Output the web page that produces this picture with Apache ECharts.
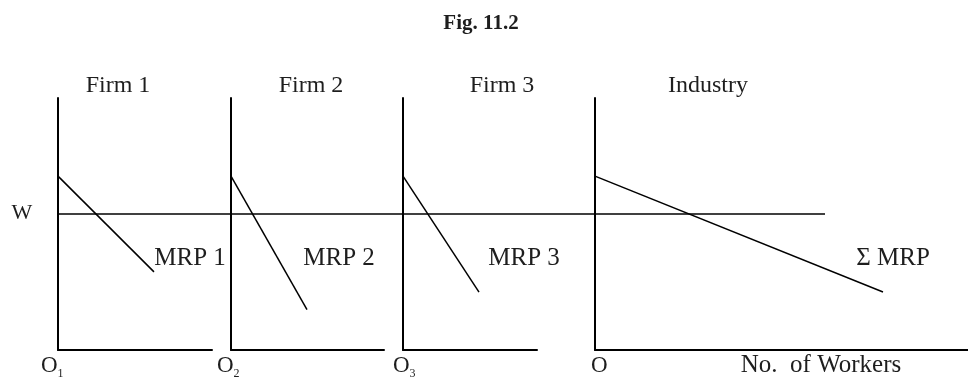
<!DOCTYPE html>
<html>
<head>
<meta charset="utf-8">
<script src="https://cdn.jsdelivr.net/npm/echarts@6/dist/echarts.min.js"></script>
<style>
  html, body { margin: 0; padding: 0; background: #fff; }
  #main { width: 968px; height: 379px; }
</style>
</head>
<body>
<div id="main"></div>
<script>
// panels: three firms plus the industry total
var panels = ['Firm 1', 'Firm 2', 'Firm 3', 'Industry'];
var origins = ['1', '2', '3', ''];          // subscripts under O
var curveNames = ['MRP 1', 'MRP 2', 'MRP 3', 'Σ MRP'];
// MRP curves: [workers, wage] start and end points
var mrpStart = [[0, 6.9], [0, 6.9], [0, 6.9], [0, 6.9]];
var mrpEnd = [[9.6, 3.1], [7.6, 1.6], [7.6, 2.3], [28.8, 2.3]];
// axis ranges
var xMax = [15.4, 15.3, 13.4, 37.3];
var yMax = 10;
// market wage
var wage = 5.4;

var myChart = echarts.init(document.getElementById('main'));

var serif = '"Liberation Serif", "Times New Roman", serif';
var ink = '#1e1e1e';

// grid boxes (pixels), the last one only carries the wage line
var gridBoxes = [
    { left: 58, width: 154 },
    { left: 231, width: 153 },
    { left: 403, width: 134 },
    { left: 595, right: 0 },
    { left: 58, width: 767 }
];

var grids = [], xAxes = [], yAxes = [], series = [];
gridBoxes.forEach(function (b, i) {
    grids.push(Object.assign({ top: 98, bottom: 29 }, b));
    var isWage = i === 4;
    var axisLine = { show: !isWage, lineStyle: { color: '#000', width: 2 } };
    xAxes.push({
        type: 'value', gridIndex: i, min: 0, max: isWage ? 1 : xMax[i],
        axisLine: axisLine, axisTick: { show: false }, axisLabel: { show: false },
        splitLine: { show: false }
    });
    yAxes.push({
        type: 'value', gridIndex: i, min: 0, max: yMax,
        axisLine: axisLine, axisTick: { show: false }, axisLabel: { show: false },
        splitLine: { show: false }
    });
});

// MRP curves
for (var i = 0; i < panels.length; i++) {
    series.push({
        name: curveNames[i],
        type: 'line',
        xAxisIndex: i, yAxisIndex: i,
        data: [mrpStart[i], mrpEnd[i]],
        symbol: 'none',
        lineStyle: { color: '#000', width: 1.5 }
    });
}
// wage line W across all panels
series.push({
    name: 'W',
    type: 'line',
    xAxisIndex: 4, yAxisIndex: 4,
    data: [[0, wage], [1, wage]],
    symbol: 'none',
    lineStyle: { color: '#000', width: 1.5 }
});

function label(text, x, y, size, weight) {
    return {
        type: 'text', x: x, y: y, silent: true,
        style: {
            text: text, fill: ink,
            fontFamily: serif, fontSize: size, fontWeight: weight || 'normal',
            align: 'center', verticalAlign: 'middle'
        }
    };
}

var titleX = [118, 311, 502, 708];
var curveLabelX = [190, 339, 524, 893];
var originX = [49, 225, 401, 599];

var graphics = [];
graphics.push(label('Fig. 11.2', 481, 24, 21, 'bold'));
graphics.push(label('W', 22, 213, 22));
for (var k = 0; k < panels.length; k++) {
    graphics.push(label(panels[k], titleX[k], 86, 24));
    graphics.push(label(curveNames[k], curveLabelX[k], 258, 25));
    graphics.push({
        type: 'text', x: originX[k] - 8, y: 366, silent: true,
        style: {
            text: 'O{s|' + origins[k] + '}', fill: ink,
            fontFamily: serif, fontSize: 23,
            align: 'left', verticalAlign: 'middle',
            rich: { s: { fontSize: 12, fontFamily: serif, fill: ink, padding: [16, 0, 0, 0] } }
        }
    });
}
graphics.push(label('No.  of Workers', 821, 365, 25));

var option = {
    animation: false,
    backgroundColor: '#fff',
    grid: grids,
    xAxis: xAxes,
    yAxis: yAxes,
    series: series,
    graphic: graphics
};

myChart.setOption(option);
</script>
</body>
</html>
